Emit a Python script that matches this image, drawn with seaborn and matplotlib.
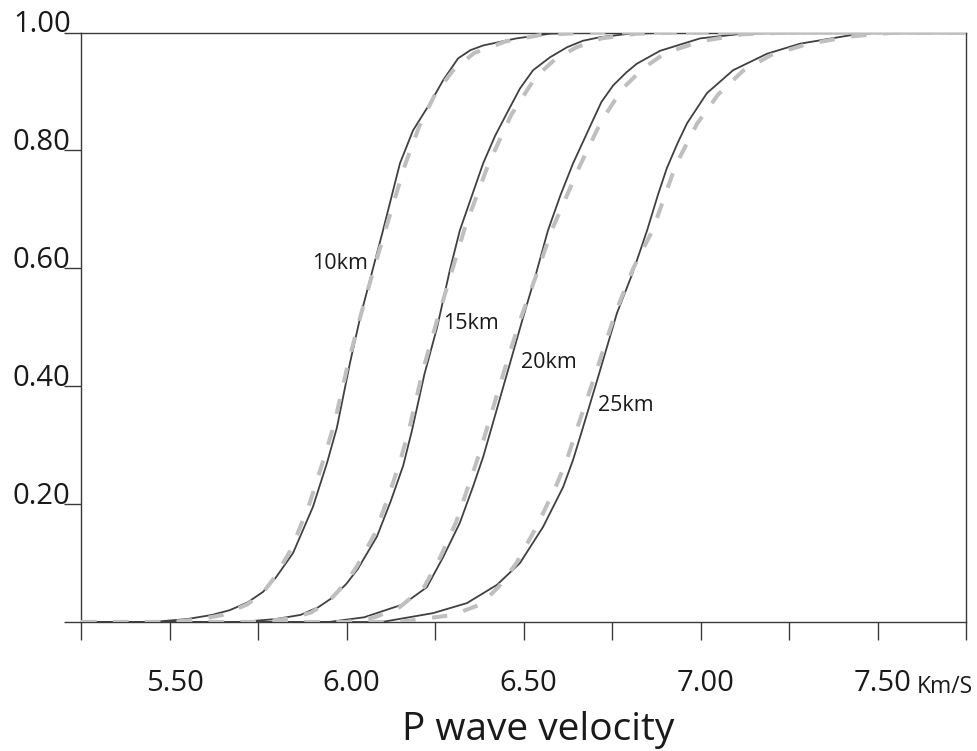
import matplotlib
matplotlib.use("Agg")
import matplotlib.pyplot as plt
import matplotlib.transforms as mtransforms
import seaborn as sns
import pandas as pd

# ---------------- data ----------------
depth_labels = ["10km", "15km", "20km", "25km"]

v10_obs = [5.25, 5.45, 5.55, 5.62, 5.67, 5.72, 5.764, 5.80, 5.849, 5.905, 5.945, 5.973, 6.01, 6.04,
           6.075, 6.103, 6.151, 6.188, 6.236, 6.273, 6.315, 6.35, 6.386, 6.48, 6.575, 6.70, 7.75]
p10_obs = [0.0, 0.0, 0.005, 0.012, 0.02, 0.033, 0.051, 0.075, 0.117, 0.195, 0.27, 0.33, 0.44, 0.52,
           0.60, 0.664, 0.778, 0.834, 0.88, 0.919, 0.956, 0.970, 0.978, 0.99, 0.998, 1.0, 1.0]

v15_obs = [5.25, 5.70, 5.80, 5.87, 5.92, 5.962, 6.00, 6.032, 6.086, 6.125, 6.16, 6.185, 6.22, 6.256,
           6.292, 6.32, 6.386, 6.42, 6.453, 6.49, 6.527, 6.575, 6.623, 6.668, 6.716, 6.80, 6.95, 7.75]
p15_obs = [0.0, 0.0, 0.005, 0.012, 0.025, 0.042, 0.065, 0.09, 0.145, 0.205, 0.265, 0.325, 0.42, 0.50,
           0.597, 0.664, 0.778, 0.825, 0.863, 0.905, 0.936, 0.958, 0.975, 0.986, 0.992, 0.998, 1.0, 1.0]

v20_obs = [5.25, 5.95, 6.05, 6.10, 6.16, 6.227, 6.273, 6.32, 6.357, 6.386, 6.41, 6.47, 6.499, 6.535,
           6.569, 6.605, 6.64, 6.696, 6.72, 6.753, 6.79, 6.82, 6.886, 6.999, 7.12, 7.25, 7.75]
p20_obs = [0.0, 0.0, 0.008, 0.018, 0.03, 0.059, 0.11, 0.168, 0.229, 0.28, 0.33, 0.456, 0.517, 0.59,
           0.664, 0.725, 0.778, 0.851, 0.882, 0.910, 0.932, 0.947, 0.969, 0.99, 0.998, 1.0, 1.0]

v25_obs = [5.25, 6.10, 6.244, 6.34, 6.425, 6.49, 6.555, 6.612, 6.64, 6.668, 6.708, 6.764, 6.807, 6.849,
           6.88, 6.905, 6.935, 6.962, 7.018, 7.092, 7.188, 7.281, 7.42, 7.50, 7.75]
p25_obs = [0.0, 0.0, 0.015, 0.032, 0.063, 0.10, 0.161, 0.229, 0.275, 0.33, 0.41, 0.524, 0.59, 0.664,
           0.725, 0.77, 0.812, 0.846, 0.897, 0.936, 0.964, 0.981, 0.995, 1.0, 1.0]

v10_fit = [5.25, 5.50, 5.58, 5.65, 5.72, 5.764, 5.80, 5.845, 5.895, 5.935, 5.965, 6.005, 6.04, 6.08,
           6.115, 6.165, 6.205, 6.25, 6.30, 6.36, 6.45, 6.55, 6.70, 7.75]
p10_fit = [0.0, 0.0, 0.004, 0.012, 0.03, 0.05, 0.078, 0.125, 0.20, 0.275, 0.335, 0.44, 0.52, 0.605,
           0.675, 0.775, 0.84, 0.895, 0.935, 0.965, 0.985, 0.996, 1.0, 1.0]

v15_fit = [5.25, 5.75, 5.84, 5.90, 5.95, 6.00, 6.03, 6.08, 6.12, 6.155, 6.18, 6.215, 6.255, 6.30,
           6.335, 6.40, 6.465, 6.535, 6.59, 6.65, 6.72, 6.82, 6.95, 7.75]
p15_fit = [0.0, 0.0, 0.006, 0.016, 0.035, 0.068, 0.095, 0.15, 0.215, 0.28, 0.335, 0.425, 0.51, 0.60,
           0.67, 0.775, 0.86, 0.925, 0.955, 0.975, 0.99, 0.998, 1.0, 1.0]

v20_fit = [5.25, 6.00, 6.08, 6.15, 6.22, 6.265, 6.31, 6.345, 6.375, 6.40, 6.46, 6.495, 6.54, 6.58,
           6.66, 6.72, 6.78, 6.84, 6.90, 7.00, 7.12, 7.25, 7.75]
p20_fit = [0.0, 0.0, 0.008, 0.025, 0.06, 0.11, 0.17, 0.232, 0.285, 0.335, 0.455, 0.52, 0.595, 0.665,
           0.775, 0.85, 0.905, 0.94, 0.965, 0.985, 0.997, 1.0, 1.0]

v25_fit = [5.25, 6.15, 6.30, 6.38, 6.43, 6.48, 6.54, 6.595, 6.625, 6.655, 6.70, 6.76, 6.81, 6.865,
           6.93, 6.99, 7.05, 7.12, 7.20, 7.30, 7.42, 7.55, 7.75]
p25_fit = [0.0, 0.0, 0.012, 0.03, 0.06, 0.10, 0.165, 0.235, 0.28, 0.335, 0.415, 0.525, 0.60, 0.665,
           0.775, 0.845, 0.895, 0.935, 0.962, 0.98, 0.993, 1.0, 1.0]

label_x = [6.061, 6.273, 6.493, 6.710]
label_y = [0.598, 0.497, 0.431, 0.358]
label_ha = ["right", "left", "left", "left"]

x_ticks = [5.25, 5.50, 5.75, 6.00, 6.25, 6.50, 6.75, 7.00, 7.25, 7.50, 7.75]
x_ticklabels = ["", "5.50", "", "6.00", "", "6.50", "", "7.00", "", "7.50", ""]
y_ticks = [0.0, 0.2, 0.4, 0.6, 0.8, 1.0]
y_ticklabels = ["", "0.20", "0.40", "0.60", "0.80", "1.00"]

obs = [(v10_obs, p10_obs), (v15_obs, p15_obs), (v20_obs, p20_obs), (v25_obs, p25_obs)]
fit = [(v10_fit, p10_fit), (v15_fit, p15_fit), (v20_fit, p20_fit), (v25_fit, p25_fit)]

# ---------------- style ----------------
sns.set_style("white")
plt.rcParams["font.family"] = ["Open Sans", "DejaVu Sans"]
plt.rcParams["lines.scale_dashes"] = False

W, H = 978, 751
fig = plt.figure(figsize=(W / 100, H / 100), dpi=100)
ax = fig.add_axes([81 / W, (H - 622) / H, (966 - 81) / W, (622 - 32.5) / H])

dark = "#404040"
grey = "#bfbfbf"
axis_col = "#3a3a3a"

for name, (v, p) in zip(depth_labels, obs):
    df = pd.DataFrame({"v": v, "p": p})
    sns.lineplot(data=df, x="v", y="p", ax=ax, color=dark, lw=1.3,
                 estimator=None, sort=False, zorder=3)
    ax.lines[-1].set_solid_joinstyle("round")

for name, (v, p) in zip(depth_labels, fit):
    df = pd.DataFrame({"v": v, "p": p})
    sns.lineplot(data=df, x="v", y="p", ax=ax, color=grey, lw=2.9,
                 estimator=None, sort=False, zorder=4)
    ln = ax.lines[-1]
    ln.set_dashes((11.0, 12.0))
    ln.set_dash_capstyle("butt")

for name, x, y, ha in zip(depth_labels, label_x, label_y, label_ha):
    ax.text(x, y, name, ha=ha, va="baseline", fontsize=15.5, color="#1a1a1a", zorder=6)

ax.set_xlim(5.25, 7.75)
ax.set_ylim(0.0, 1.0)
ax.set_xticks(x_ticks)
ax.set_xticklabels(x_ticklabels)
ax.set_yticks(y_ticks)
ax.set_yticklabels(y_ticklabels)
ax.set_xlabel("")
ax.set_ylabel("")

for s in ax.spines.values():
    s.set_visible(True)
    s.set_color(axis_col)
    s.set_linewidth(1.0)

ax.tick_params(axis="x", direction="out", length=13, width=1.0, color=axis_col,
               labelsize=21, labelcolor="#1a1a1a", pad=21, bottom=True)
ax.tick_params(axis="y", direction="out", length=12.5, width=1.0, color=axis_col,
               labelsize=21, labelcolor="#1a1a1a", pad=-5, left=True)
for lab in ax.get_yticklabels():
    lab.set_verticalalignment("baseline")
shift = mtransforms.ScaledTranslation(5 / 100, 0, fig.dpi_scale_trans)
for lab in ax.get_xticklabels():
    lab.set_transform(lab.get_transform() + shift)

fig.text(917 / W, 1 - 693 / H, "Km/S", ha="left", va="baseline", fontsize=16.5, color="#1a1a1a")
fig.text(402 / W, 1 - 740 / H, "P wave velocity", ha="left", va="baseline", fontsize=28,
         color="#1a1a1a")

fig.savefig("out.png", dpi=100, facecolor="white")
